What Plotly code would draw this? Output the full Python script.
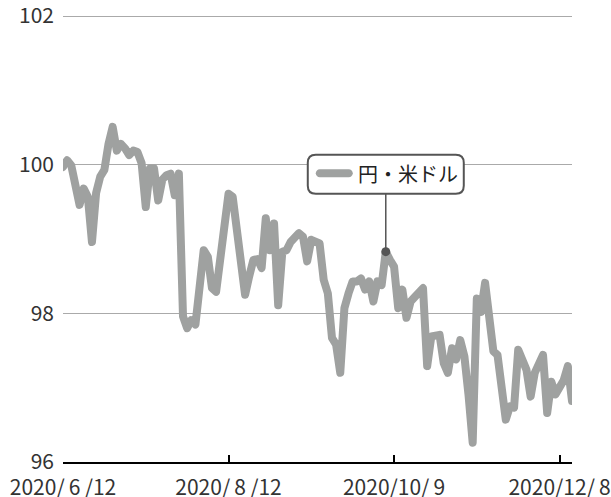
import plotly.graph_objects as go

# Trading-day index (Japanese market days) from 2020/6/12
series_name = "円・米ドル"
values = [
    99.97, 100.06, 99.99, 99.75, 99.46, 99.68, 99.57, 98.96, 99.62, 99.84,
    99.93, 100.28, 100.51, 100.19, 100.28, 100.22, 100.13, 100.19, 100.17, 100.02,
    99.43, 99.95, 99.95, 99.52, 99.80, 99.86, 99.88, 99.59, 99.88, 97.96,
    97.80, 97.91, 97.85, 98.35, 98.85, 98.76, 98.34, 98.29, 98.70, 99.15,
    99.61, 99.57, 99.15, 98.70, 98.25, 98.50, 98.72, 98.73, 98.61, 99.28,
    98.85, 99.21, 98.11, 98.83, 98.85, 98.96, 99.02, 99.08, 99.03, 98.70,
    98.99, 98.96, 98.94, 98.45, 98.27, 97.67, 97.58, 97.20, 98.07, 98.27,
    98.43, 98.43, 98.47, 98.32, 98.43, 98.16, 98.43, 98.38, 98.83, 98.72,
    98.63, 98.07, 98.32, 97.94, 98.16, 98.22, 98.27, 98.34, 97.29, 97.69,
    97.70, 97.71, 97.33, 97.20, 97.53, 97.38, 97.64, 97.42, 96.90, 96.26,
    98.20, 98.02, 98.41, 97.95, 97.49, 97.44, 97.00, 96.57, 96.75, 96.73,
    97.51, 97.38, 97.24, 96.88, 97.20, 97.32, 97.44, 96.66, 97.08, 96.91,
    97.00, 97.10, 97.29, 96.82,
]
x_index = list(range(len(values)))

x_tickvals = [0, 40, 80, 120]
x_ticktext = ["2020/\u20096\u2009/12", "2020/\u20098\u2009/12", "2020/10/\u20099", "2020/12/\u20098"]
y_tickvals = [96, 98, 100, 102]
y_ticktext = ["96", "98", "100", "102"]

label_index = 78

LINE_COLOR = "#9fa1a0"
DARK = "#555555"
FONT = "Noto Sans CJK JP"
FS = 21

fig = go.Figure()
fig.add_trace(go.Scatter(
    x=x_index, y=values, mode="lines", name=series_name,
    line=dict(color=LINE_COLOR, width=8), showlegend=False, hoverinfo="skip",
))
fig.add_trace(go.Scatter(
    x=[x_index[label_index]], y=[values[label_index]], mode="markers",
    marker=dict(color=DARK, size=9), showlegend=False, hoverinfo="skip",
))

ax = x_index[label_index]
ay = values[label_index]

# rounded box (pixel offsets relative to the labelled point)
L, R, B, T, r = -78, 78, 58, 97, 8
box_path = (f"M {L+r},{B} L {R-r},{B} Q {R},{B} {R},{B+r} L {R},{T-r} Q {R},{T} {R-r},{T} "
            f"L {L+r},{T} Q {L},{T} {L},{T-r} L {L},{B+r} Q {L},{B} {L+r},{B} Z")
fig.add_shape(type="path", xref="x", yref="y", xsizemode="pixel", ysizemode="pixel",
              xanchor=ax, yanchor=ay, path=box_path,
              line=dict(color=DARK, width=2), fillcolor="white", layer="above")
# connector
fig.add_shape(type="line", xref="x", yref="y", xsizemode="pixel", ysizemode="pixel",
              xanchor=ax, yanchor=ay, x0=0, y0=3, x1=0, y1=B,
              line=dict(color=DARK, width=1.5), layer="above")
# legend line sample (stadium)
sx0, sx1, sy, h = -70, -33, 78.5, 4
k = 2.2
sample = (f"M {sx0+h},{sy-h} L {sx1-h},{sy-h} C {sx1-h+k},{sy-h} {sx1},{sy-k} {sx1},{sy} "
          f"C {sx1},{sy+k} {sx1-h+k},{sy+h} {sx1-h},{sy+h} L {sx0+h},{sy+h} "
          f"C {sx0+h-k},{sy+h} {sx0},{sy+k} {sx0},{sy} C {sx0},{sy-k} {sx0+h-k},{sy-h} {sx0+h},{sy-h} Z")
fig.add_shape(type="path", xref="x", yref="y", xsizemode="pixel", ysizemode="pixel",
              xanchor=ax, yanchor=ay, path=sample,
              line=dict(width=0), fillcolor=LINE_COLOR, layer="above")
fig.add_annotation(x=ax, y=ay, xref="x", yref="y", text=series_name, showarrow=False,
                   xshift=22, yshift=78.5, font=dict(family=FONT, size=20, color="#222222"))

fig.update_layout(
    width=611, height=497,
    margin=dict(l=63, r=39, t=15, b=35, autoexpand=False),
    paper_bgcolor="white", plot_bgcolor="white",
    font=dict(family=FONT, size=FS, color="#333333"),
    showlegend=False,
)
fig.update_xaxes(
    range=[0, 123], tickvals=x_tickvals, ticktext=x_ticktext, automargin=False,
    showgrid=False, zeroline=False, showline=True, linecolor="black", linewidth=2,
    ticks="inside", ticklen=7, tickwidth=2, tickcolor="black",
    tickfont=dict(family=FONT, size=FS, color="#333333"), ticklabelstandoff=6,
    ticklabeloverflow="allow",
)
fig.update_yaxes(
    range=[96, 102.015], tickvals=y_tickvals, ticktext=y_ticktext, automargin=False,
    showgrid=True, gridcolor="#aaaaaa", gridwidth=1, zeroline=False, showline=False,
    ticks="", tickfont=dict(family=FONT, size=FS, color="#333333"), ticklabelstandoff=8,
    ticklabeloverflow="allow",
)

post = """
document.documentElement.style.margin='0';
document.body.style.margin='0';
document.body.style.overflow='hidden';
document.querySelectorAll('.scatterlayer .js-line').forEach(function(p){
  p.style.strokeLinejoin='round'; p.style.strokeLinecap='round';
});
"""
fig.write_html("out.html", post_script=post, config={"displayModeBar": False})
